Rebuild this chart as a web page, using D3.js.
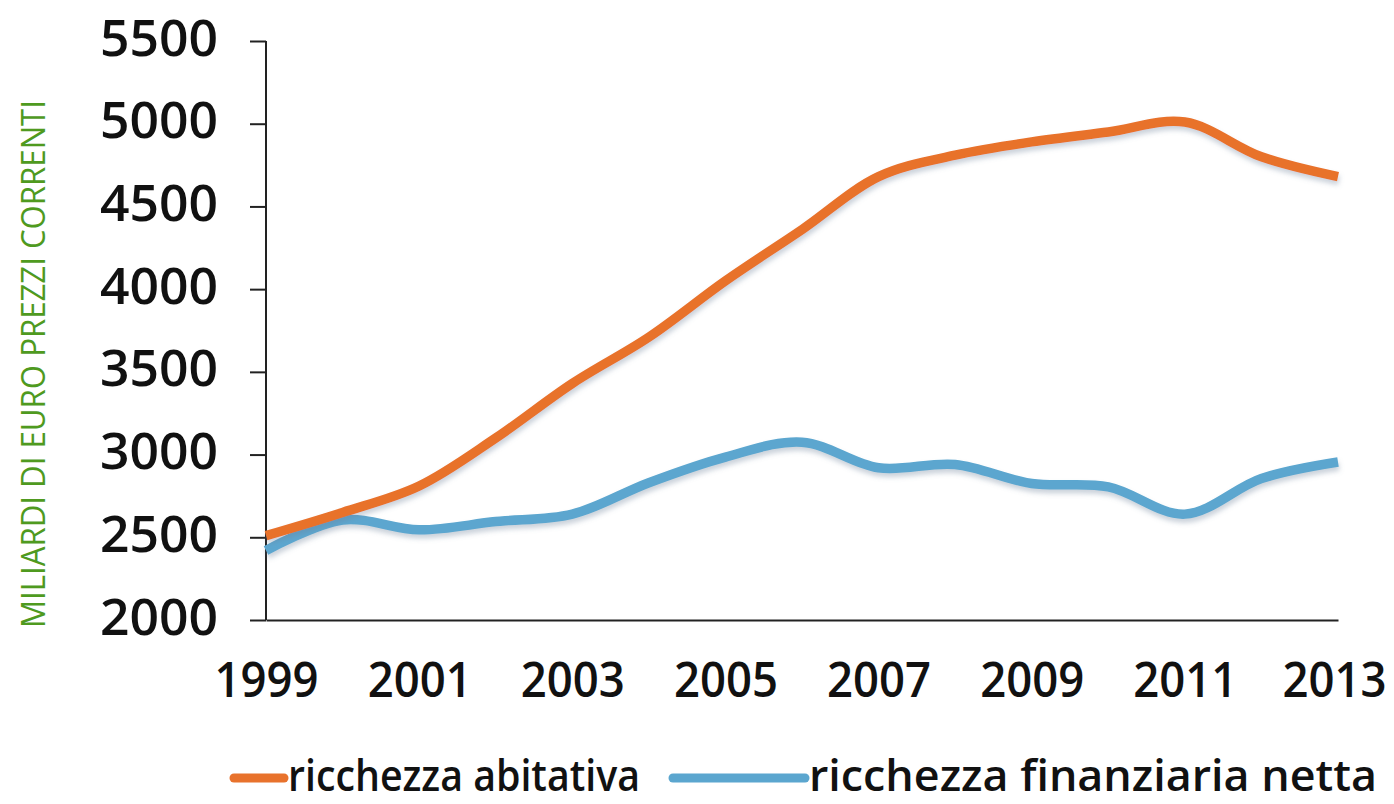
<!DOCTYPE html>
<html>
<head>
<meta charset="utf-8">
<script src="https://cdn.jsdelivr.net/npm/d3@7"></script>
<style>
  body { margin: 0; background: #fff; }
  svg { display: block; }
</style>
</head>
<body>
<svg id="chart" width="1394" height="804"></svg>
<script>
var years = [1999, 2000, 2001, 2002, 2003, 2004, 2005, 2006, 2007, 2008, 2009, 2010, 2011, 2012, 2013];
var abitativa = [2510, 2650, 2810, 3100, 3430, 3710, 4050, 4360, 4680, 4810, 4890, 4950, 5010, 4800, 4680];
var finanziaria = [2420, 2605, 2545, 2595, 2640, 2830, 2985, 3075, 2920, 2940, 2825, 2805, 2640, 2855, 2955];
var yTicks = [2000, 2500, 3000, 3500, 4000, 4500, 5000, 5500];
var xTicks = [1999, 2001, 2003, 2005, 2007, 2009, 2011, 2013];
var seriesNames = ["ricchezza abitativa", "ricchezza finanziaria netta"];
var seriesColors = ["#e8722c", "#5ba6cf"];

var svg = d3.select("#chart");
var font = "'Open Sans', 'Noto Sans', sans-serif";

var x = d3.scaleLinear().domain([1999, 2013]).range([266, 1338]);
var y = d3.scaleLinear().domain([2000, 5500]).range([620, 41]);

// soft shadow under the lines
var defs = svg.append("defs");
var f = defs.append("filter").attr("id", "shadow")
  .attr("x", "-5%").attr("y", "-20%").attr("width", "110%").attr("height", "140%");
f.append("feDropShadow").attr("dx", 1).attr("dy", 4).attr("stdDeviation", 2.5)
  .attr("flood-color", "#6a7f99").attr("flood-opacity", 0.35);

// y axis
var yAxis = d3.axisLeft(y).tickValues(yTicks).tickFormat(d3.format("d")).tickSize(16).tickPadding(32);
var gy = svg.append("g").attr("transform", "translate(266,0)").call(yAxis);
gy.select(".domain").attr("stroke", "#222").attr("stroke-width", 2).attr("d", "M0," + y(5500) + "V" + y(2000));
gy.selectAll(".tick line").attr("stroke", "#222").attr("stroke-width", 2);
gy.selectAll(".tick text").attr("font-family", font).attr("font-size", 50).attr("font-weight", 600)
  .attr("fill", "#111").attr("dy", "0.28em")
  .attr("textLength", 118).attr("lengthAdjust", "spacingAndGlyphs");

// x axis (no tick marks)
var xAxis = d3.axisBottom(x).tickValues(xTicks).tickFormat(d3.format("d")).tickSize(0).tickPadding(43);
var gx = svg.append("g").attr("transform", "translate(0,620)").call(xAxis);
gx.select(".domain").attr("stroke", "#222").attr("stroke-width", 2);
gx.selectAll(".tick text").attr("font-family", font).attr("font-size", 48).attr("font-weight", 600)
  .attr("fill", "#111")
  .attr("textLength", 104).attr("lengthAdjust", "spacingAndGlyphs");
// last label sits a touch left so it stays inside the page
gx.selectAll(".tick text").filter(function(d) { return d === 2013; }).attr("x", -4);

// y axis title
svg.append("text")
  .attr("transform", "translate(45,364) rotate(-90)")
  .attr("text-anchor", "middle")
  .attr("font-family", font)
  .attr("font-size", 33)
  .attr("fill", "#4f9a1f")
  .attr("textLength", 528)
  .attr("lengthAdjust", "spacingAndGlyphs")
  .text("MILIARDI DI EURO PREZZI CORRENTI");

var line = d3.line()
  .x(function(d, i) { return x(years[i]); })
  .y(function(d) { return y(d); })
  .curve(d3.curveCatmullRom.alpha(0.5));

var allSeries = [abitativa, finanziaria];
// draw the blue one first so orange sits on top where they touch
for (var i = allSeries.length - 1; i >= 0; i--) {
  svg.append("path")
    .datum(allSeries[i])
    .attr("d", line)
    .attr("fill", "none")
    .attr("stroke", seriesColors[i])
    .attr("stroke-width", 9.5)
    .attr("filter", "url(#shadow)");
}

// legend
var legendX = [234, 673];
var legendLen = [50, 132];
var legendTextLen = [352, 568];
for (var j = 0; j < seriesNames.length; j++) {
  svg.append("line")
    .attr("x1", legendX[j]).attr("x2", legendX[j] + legendLen[j])
    .attr("y1", 778).attr("y2", 778)
    .attr("stroke", seriesColors[j])
    .attr("stroke-width", 9)
    .attr("stroke-linecap", "round");
  svg.append("text")
    .attr("x", legendX[j] + legendLen[j] + 4)
    .attr("y", 791)
    .attr("font-family", font)
    .attr("font-size", 44)
    .attr("font-weight", 600)
    .attr("fill", "#111")
    .attr("textLength", legendTextLen[j])
    .attr("lengthAdjust", "spacingAndGlyphs")
    .text(seriesNames[j]);
}
</script>
</body>
</html>
